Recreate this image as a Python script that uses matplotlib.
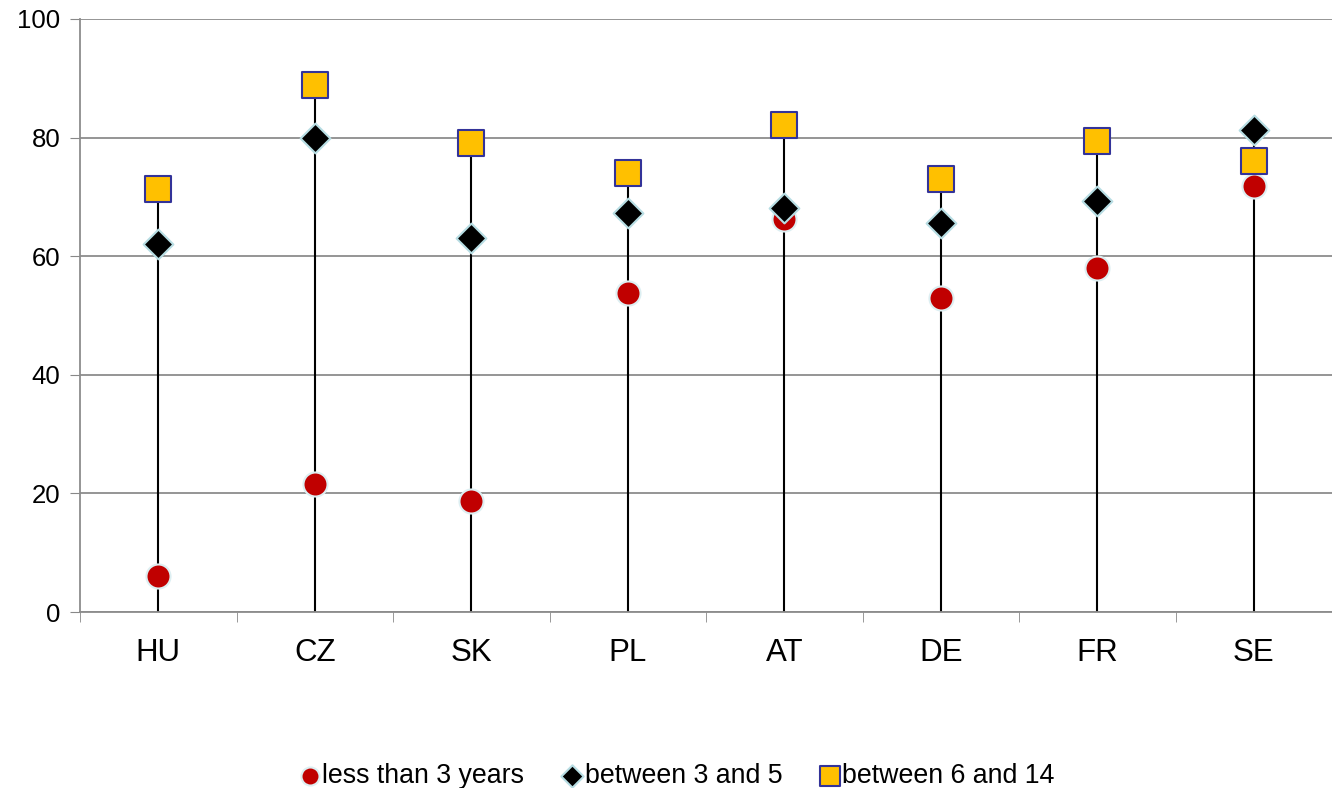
import matplotlib.pyplot as plt
import numpy as np

plt.rcParams['font.family'] = ['Liberation Sans', 'DejaVu Sans']

# countries and shares per age group of the youngest child
countries = ["HU", "CZ", "SK", "PL", "AT", "DE", "FR", "SE"]
under_3 = [6.0, 21.6, 18.7, 53.8, 66.2, 53.0, 58.0, 71.9]
age_3_5 = [62.0, 80.0, 63.1, 67.3, 68.1, 65.6, 69.3, 81.3]
age_6_14 = [71.3, 88.9, 79.1, 74.0, 82.1, 73.0, 79.4, 76.1]

x = np.arange(len(countries))

fig = plt.figure(figsize=(13.32, 7.88), dpi=100)
ax = fig.add_axes([80 / 1332, 1 - 612 / 788, 1252 / 1332, 593 / 788])

# high-low lines from zero up to the highest value
tops = np.maximum.reduce([under_3, age_3_5, age_6_14])
ax.vlines(x, 0, tops, color="black", lw=1.5, zorder=2)

ax.scatter(x, under_3, marker="o", s=300, color="#C00000",
           edgecolors="#DDEFF2", linewidths=1.5, zorder=3, label="less than 3 years")
ax.scatter(x, age_3_5, marker="D", s=230, color="black",
           edgecolors="#B7DDE3", linewidths=1.5, zorder=4, label="between 3 and 5")
ax.scatter(x, age_6_14, marker="s", s=340, color="#FFC000",
           edgecolors="#333399", linewidths=1.5, zorder=5, label="between 6 and 14")

ax.set_xlim(-0.5, len(countries) - 0.5)
ax.set_ylim(0, 100)
ax.set_yticks(range(0, 101, 20))
ax.set_xticks(x)
ax.set_xticklabels(countries, fontsize=22.5)
ax.set_xticks(np.arange(-0.5, len(countries)), minor=True)
ax.tick_params(axis="x", which="major", length=0, pad=19)
ax.tick_params(axis="x", which="minor", length=7, color="#888888")
ax.tick_params(axis="y", length=7, color="#888888", labelsize=18.5, pad=7)

ax.grid(axis="y", color="#8C8C8C", lw=1.3, zorder=0)
for side in ["top", "right"]:
    ax.spines[side].set_visible(False)
for side in ["left", "bottom"]:
    ax.spines[side].set_color("#8C8C8C")
    ax.spines[side].set_linewidth(1.3)

ax.legend(loc="center", bbox_to_anchor=(0.478, -0.276), ncol=3, frameon=False,
          fontsize=19.3, handlelength=0.6, handletextpad=0.15, columnspacing=1.5,
          markerscale=0.75)

plt.savefig("out.png", dpi=100)
